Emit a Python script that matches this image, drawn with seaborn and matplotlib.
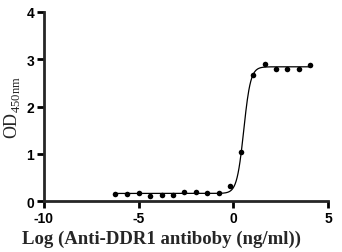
import numpy as np
import pandas as pd
import matplotlib
matplotlib.use("Agg")
import matplotlib.pyplot as plt
import seaborn as sns

# Data
log_conc = [4.07, 3.46, 2.84, 2.26, 1.66, 1.04, 0.42, -0.17, -0.76, -1.38,
            -1.97, -2.58, -3.19, -3.77, -4.39, -4.97, -5.59, -6.23]
od450 = [2.88, 2.79, 2.79, 2.79, 2.91, 2.67, 1.03, 0.31, 0.17, 0.17,
         0.18, 0.20, 0.13, 0.13, 0.11, 0.17, 0.15, 0.15]

# 4PL fit parameters (estimated)
fit_bottom = 0.16
fit_top = 2.84
fit_logec50 = 0.55
fit_hill = 2.4

x_ticks = [-10, -5, 0, 5]
y_ticks = [0, 1, 2, 3, 4]

sns.set_style("ticks")
plt.rcParams['font.family'] = ['Liberation Sans', 'DejaVu Sans']

fig = plt.figure(figsize=(3.42, 2.53), dpi=100)
ax = fig.add_axes([44/342, 1-202/253, (328-44)/342, (202-13)/253])

pts = pd.DataFrame({"x": log_conc, "y": od450})
xf = np.linspace(min(log_conc), max(log_conc), 400)
yf = fit_bottom + (fit_top - fit_bottom) / (1 + 10 ** ((fit_logec50 - xf) * fit_hill))
curve = pd.DataFrame({"x": xf, "y": yf})

sns.lineplot(data=curve, x="x", y="y", ax=ax, color="black", linewidth=0.9)
sns.scatterplot(data=pts, x="x", y="y", ax=ax, color="black", s=16,
                edgecolor="black", linewidth=0, clip_on=False)

ax.set_xlim(-10, 5)
ax.set_ylim(0, 4)
ax.set_xticks(x_ticks)
ax.set_yticks(y_ticks)
ax.set_xticklabels([str(t) for t in x_ticks], fontweight="bold", fontsize=10)
ax.set_yticklabels([str(t) for t in y_ticks], fontweight="bold", fontsize=10)
for s in ["top", "right"]:
    ax.spines[s].set_visible(False)
for s in ["left", "bottom"]:
    ax.spines[s].set_linewidth(2)
ax.tick_params(width=2, length=5, pad=2, colors="black")

ax.set_xlabel("")
ax.set_ylabel("")
fig.text(161/342, 1-239/253, "Log (Anti-DDR1 antiboby (ng/ml))",
         family="Liberation Serif", fontweight="bold", fontsize=13.5,
         ha="center", va="center")
fig.text(12/342, 1-108/253, r"OD$_{\mathregular{450nm}}$",
         family="Liberation Serif", fontsize=13, rotation=90,
         ha="center", va="center")

fig.savefig("out.png", dpi=100)
